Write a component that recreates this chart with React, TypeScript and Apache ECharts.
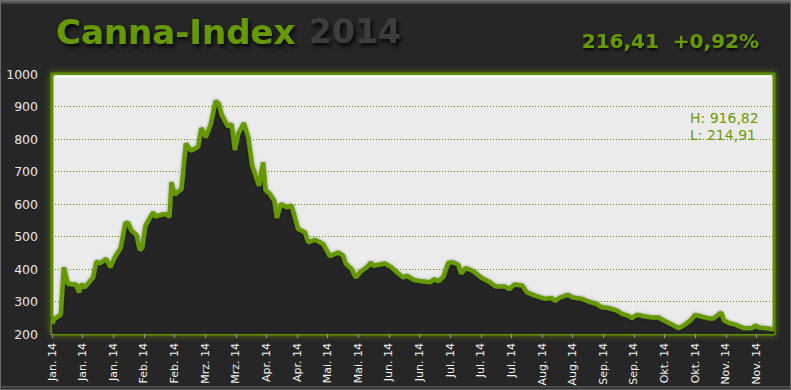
import React, { useEffect, useRef } from "react";
import * as echarts from "echarts";

// Tick labels of the (date) x axis, one every 14 days
const tickLabels = [
  "Jan. 14", "Jan. 14", "Jan. 14", "Feb. 14", "Feb. 14", "Mrz. 14", "Mrz. 14",
  "Apr. 14", "Apr. 14", "Mai. 14", "Mai. 14", "Jun. 14", "Jun. 14", "Jul. 14",
  "Jul. 14", "Jul. 14", "Aug. 14", "Aug. 14", "Sep. 14", "Sep. 14", "Okt. 14",
  "Okt. 14", "Nov. 14", "Nov. 14",
];

// Days since start of year (approx.) of each sample
const days = [
  0, 1.2, 4.0, 5.4, 7.3, 9.6, 10.7, 12.4, 13.4, 14.9,
  18.8, 20.3, 21.8, 24.8, 26.7, 28.7, 31.4, 33.5, 34.8, 36.3,
  38.6, 40.1, 41.3, 42.7, 46.2, 47.3, 50.0, 52.3, 53.7, 54.6,
  56.1, 59.2, 61.2, 63.5, 66.8, 68.3, 70.3, 72.6, 74.8, 76.3,
  77.5, 80.5, 82.1, 83.6, 85.1, 87.7, 89.7, 91.5, 94.6, 96.5,
  97.6, 99.6, 101.6, 102.8, 104.6, 107.2, 109.5, 111.0, 112.5, 115.6,
  117.1, 120.2, 124.0, 127.0, 130.8, 133.1, 134.2, 136.9, 138.8, 140.8,
  144.6, 145.8, 146.9, 152.2, 155.2, 158.3, 160.6, 162.1, 165.5, 168.9,
  172.8, 174.8, 176.6, 178.9, 181.2, 183.5, 185.7, 187.0, 189.1, 192.6,
  196.4, 200.2, 202.8, 207.1, 208.9, 211.4, 215.0, 217.0, 220.8, 225.4,
  228.2, 230.0, 232.3, 236.1, 237.6, 242.2, 245.2, 249.0, 251.3, 254.4,
  258.2, 260.5, 263.5, 265.0, 267.3, 271.2, 274.2, 277.2, 280.3, 283.3,
  286.4, 288.7, 291.7, 294.0, 297.1, 300.1, 302.4, 305.5, 306.2, 307.0,
  309.3, 312.3, 316.1, 319.9, 321.5, 323.0, 326.1, 329.1, 330,
];

// Index values
const indexValues = [
  232, 247, 259, 405, 354, 352, 354, 328, 354, 343,
  374, 423, 417, 431, 405, 436, 465, 540, 543, 518,
  505, 458, 466, 533, 574, 561, 567, 569, 559, 667,
  629, 646, 786, 764, 776, 834, 805, 846, 916.82, 908,
  875, 838, 846, 766, 815, 849, 805, 718, 656, 728,
  643, 631, 610, 557, 600, 590, 595, 559, 523, 513,
  482, 490, 477, 439, 451, 441, 417, 400, 374, 390,
  410, 420, 410, 417, 405, 386, 374, 379, 366, 362,
  359, 369, 362, 376, 420, 420, 413, 386, 403, 393,
  372, 359, 346, 346, 338, 352, 349, 328, 318, 308,
  311, 302, 313, 321, 313, 308, 300, 292, 282, 280,
  272, 262, 256, 249, 259, 254, 251, 251, 239, 229,
  218, 226, 241, 259, 253, 248, 248, 265, 262, 243,
  234, 229, 218, 218, 226, 220, 218, 214.91, 216.41,
];

const titleMain = "Canna-Index";
const titleYear = "2014";
const lastValue = "216,41";
const changeText = "+0,92%";
const highText = "H: 916,82";
const lowText = "L: 214,91";

const GREEN = "#669900";
const FONT = "'DejaVu Sans', Verdana, sans-serif";

export default function App() {
  const ref = useRef<HTMLDivElement>(null);

  useEffect(() => {
    if (!ref.current) return;
    const chart = echarts.init(ref.current, null, { renderer: "svg" });
    const seriesData = days.map((d, i) => [d, indexValues[i]]);

    chart.setOption({
      animation: false,
      backgroundColor: "#262626",
      grid: {
        left: 52,
        right: 17,
        top: 74,
        bottom: 56,
        show: true,
        backgroundColor: "#ebebeb",
        borderColor: "#5f8f00",
        borderWidth: 3,
        shadowBlur: 6,
        shadowColor: "rgba(110,160,0,0.7)",
      },
      xAxis: {
        type: "value",
        min: 0,
        max: 330,
        interval: 14,
        axisLine: { show: false },
        axisTick: {
          show: true,
          length: 4,
          lineStyle: { color: "#9a9a9a", width: 1 },
        },
        splitLine: { show: false },
        axisLabel: {
          rotate: 90,
          margin: 9,
          color: "#f2f2f2",
          fontFamily: FONT,
          fontSize: 11,
          showMaxLabel: false,
          formatter: (v: number) => {
            const i = Math.round(v / 14);
            return tickLabels[i] ?? "";
          },
        },
      },
      yAxis: {
        type: "value",
        min: 200,
        max: 1000,
        interval: 100,
        axisLine: { show: false },
        axisTick: { show: false },
        axisLabel: {
          color: "#e8e8e8",
          fontFamily: FONT,
          fontSize: 12.5,
          margin: 14,
          formatter: (v: number) => String(v),
        },
        splitLine: {
          show: true,
          lineStyle: { color: "#5f8f00", type: [1, 2], width: 1 },
        },
      },
      series: [
        {
          type: "line",
          data: seriesData,
          symbol: "none",
          lineStyle: {
            color: GREEN,
            width: 4.5,
            shadowBlur: 3,
            shadowColor: "rgba(0,0,0,0.35)",
          },
          areaStyle: { color: "#252525", opacity: 1 },
          z: 3,
        },
      ],
      graphic: [
        {
          type: "rect",
          shape: { x: 0, y: 0, width: 791, height: 4 },
          style: {
            fill: new echarts.graphic.LinearGradient(0, 0, 0, 1, [
              { offset: 0, color: "#7a7a7a" },
              { offset: 1, color: "#3a3a3a" },
            ]),
          },
          z: 10,
        },
        {
          type: "rect",
          shape: { x: 0.5, y: 0.5, width: 790, height: 389 },
          style: { fill: "none", stroke: "#6a6a6a", lineWidth: 1 },
          z: 10,
        },
        {
          type: "line",
          shape: { x1: 1, y1: 387, x2: 790, y2: 387 },
          style: { stroke: "#4a4a4a", lineWidth: 2 },
          z: 10,
        },
        {
          type: "line",
          shape: { x1: 55, y1: 76.5, x2: 772, y2: 76.5 },
          style: { stroke: "#ffffff", lineWidth: 2.5 },
          z: 10,
        },
        {
          type: "text",
          left: 56,
          top: 15,
          style: {
            text: titleMain,
            fill: GREEN,
            font: `bold 34px ${FONT}`,
            textShadowColor: "rgba(0,0,0,0.85)",
            textShadowBlur: 4,
            textShadowOffsetX: 2,
            textShadowOffsetY: 3,
          },
          z: 10,
        },
        {
          type: "text",
          left: 309,
          top: 15,
          style: {
            text: titleYear,
            fill: "#3c3c3c",
            font: `bold 33px ${FONT}`,
            textShadowColor: "rgba(0,0,0,0.85)",
            textShadowBlur: 4,
            textShadowOffsetX: 2,
            textShadowOffsetY: 3,
          },
          z: 10,
        },
        {
          type: "text",
          right: 32,
          top: 31,
          style: {
            text: `${lastValue}  ${changeText}`,
            fill: GREEN,
            font: `bold 20px ${FONT}`,
            textShadowColor: "rgba(0,0,0,0.85)",
            textShadowBlur: 3,
            textShadowOffsetX: 1,
            textShadowOffsetY: 2,
          },
          z: 10,
        },
        {
          type: "text",
          left: 690,
          top: 111,
          style: {
            text: highText,
            fill: "#6f9a05",
            font: `14px ${FONT}`,
          },
          z: 10,
        },
        {
          type: "text",
          left: 690,
          top: 128,
          style: {
            text: lowText,
            fill: "#6f9a05",
            font: `14px ${FONT}`,
          },
          z: 10,
        },
      ],
    });

    return () => chart.dispose();
  }, []);

  return (
    <div
      ref={ref}
      style={{ position: "fixed", left: 0, top: 0, width: 791, height: 390 }}
    />
  );
}
